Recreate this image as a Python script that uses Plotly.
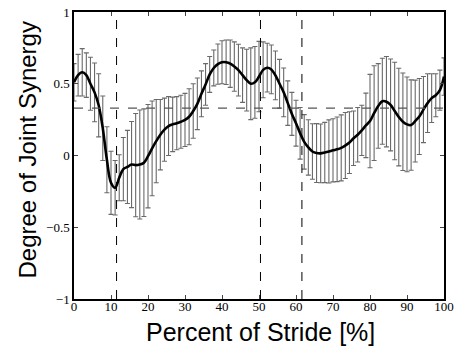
import numpy as np
import plotly.graph_objects as go

# Sample positions (percent of stride), 91 evenly spaced samples
stride = np.linspace(0, 100, 91)

mean_synergy = [
    0.51, 0.56, 0.58, 0.56, 0.50, 0.44, 0.35, 0.19, -0.03, -0.19,
    -0.225, -0.155, -0.095, -0.08, -0.063, -0.067, -0.063, -0.05, -0.005, 0.05,
    0.10, 0.145, 0.18, 0.205, 0.217, 0.225, 0.235, 0.248, 0.27, 0.31,
    0.36, 0.43, 0.495, 0.565, 0.61, 0.637, 0.65, 0.65, 0.64, 0.62,
    0.595, 0.56, 0.525, 0.50, 0.51, 0.55, 0.597, 0.612, 0.60, 0.558,
    0.50, 0.44, 0.365, 0.29, 0.225, 0.155, 0.095, 0.056, 0.028, 0.017,
    0.015, 0.021, 0.028, 0.036, 0.043, 0.053, 0.07, 0.09, 0.12, 0.145,
    0.175, 0.21, 0.24, 0.295, 0.345, 0.378, 0.375, 0.352, 0.31, 0.268,
    0.235, 0.217, 0.212, 0.24, 0.272, 0.32, 0.365, 0.40, 0.42, 0.455,
    0.55,
]

std_synergy = [
    0.13, 0.145, 0.165, 0.155, 0.185, 0.205, 0.22, 0.225, 0.23, 0.22,
    0.19, 0.16, 0.22, 0.255, 0.30, 0.36, 0.38, 0.375, 0.36, 0.33,
    0.29, 0.245, 0.22, 0.205, 0.19, 0.185, 0.185, 0.185, 0.195, 0.19,
    0.18, 0.16, 0.145, 0.125, 0.125, 0.14, 0.15, 0.155, 0.165, 0.172,
    0.18, 0.19, 0.215, 0.25, 0.25, 0.245, 0.195, 0.17, 0.17, 0.17,
    0.17, 0.17, 0.155, 0.15, 0.16, 0.18, 0.19, 0.193, 0.193, 0.205,
    0.205, 0.21, 0.22, 0.22, 0.225, 0.23, 0.23, 0.215, 0.19, 0.19,
    0.175, 0.225, 0.325, 0.33, 0.295, 0.30, 0.315, 0.32, 0.34, 0.34,
    0.34, 0.33, 0.315, 0.285, 0.265, 0.23, 0.205, 0.17, 0.15, 0.14,
    0.13,
]

event_lines = [11.5, 50.4, 61.6]
threshold = 0.33

x_ticks = [0, 10, 20, 30, 40, 50, 60, 70, 80, 90, 100]
y_ticks = [-1, -0.5, 0, 0.5, 1]
y_ticklabels = ["\u22121", "\u22120.5", "0", "0.5", "1"]
x_title = "Percent of Stride [%]"
y_title = "Degree of Joint Synergy"

fig = go.Figure()

# error bars (no line)
fig.add_trace(go.Scatter(
    x=stride, y=mean_synergy, mode="markers",
    marker=dict(size=1, color="rgba(0,0,0,0)"),
    error_y=dict(type="data", array=std_synergy, visible=True,
                 color="#6a6a6a", thickness=1.1, width=2.5),
    showlegend=False, hoverinfo="skip",
))

# mean curve
fig.add_trace(go.Scatter(
    x=stride, y=mean_synergy, mode="lines",
    line=dict(color="black", width=2.6, shape="spline", smoothing=1.0),
    showlegend=False,
))

for xv in event_lines:
    fig.add_shape(type="line", x0=xv, x1=xv, y0=-1, y1=1, xref="x", yref="y",
                  line=dict(color="black", width=1, dash="dash"))
fig.add_shape(type="line", x0=0, x1=100, y0=threshold, y1=threshold,
              xref="x", yref="y",
              line=dict(color="#555555", width=1.2, dash="dash"))

fig.add_annotation(text=x_title, xref="paper", yref="paper",
                   x=0.505, y=-0.115, xanchor="center", yanchor="middle",
                   showarrow=False,
                   font=dict(family="Liberation Sans", size=25, color="black"))
fig.add_annotation(text=y_title, xref="paper", yref="paper", textangle=-90,
                   x=-0.125, y=0.52, xanchor="center", yanchor="middle",
                   showarrow=False,
                   font=dict(family="Liberation Sans", size=24, color="black"))

fig.update_layout(
    width=459, height=349,
    margin=dict(l=74, r=15, t=12, b=50, autoexpand=False),
    paper_bgcolor="white", plot_bgcolor="white",
    font=dict(family="Liberation Serif", color="black", size=13),
)
fig.update_xaxes(
    range=[0, 100], tickvals=x_ticks, ticks="inside", ticklen=4,
    showline=True, linecolor="black", linewidth=1.5, mirror="ticks",
    showgrid=False, zeroline=False, automargin=False,
    ticklabelstandoff=-5,
    tickfont=dict(family="Liberation Serif", size=13),
)
fig.update_yaxes(
    range=[-1, 1], tickvals=y_ticks, ticktext=y_ticklabels,
    ticks="inside", ticklen=4,
    showline=True, linecolor="black", linewidth=1.5, mirror="ticks",
    showgrid=False, zeroline=False, automargin=False,
    tickfont=dict(family="Liberation Serif", size=13),
)

fig.write_html("out.html")
